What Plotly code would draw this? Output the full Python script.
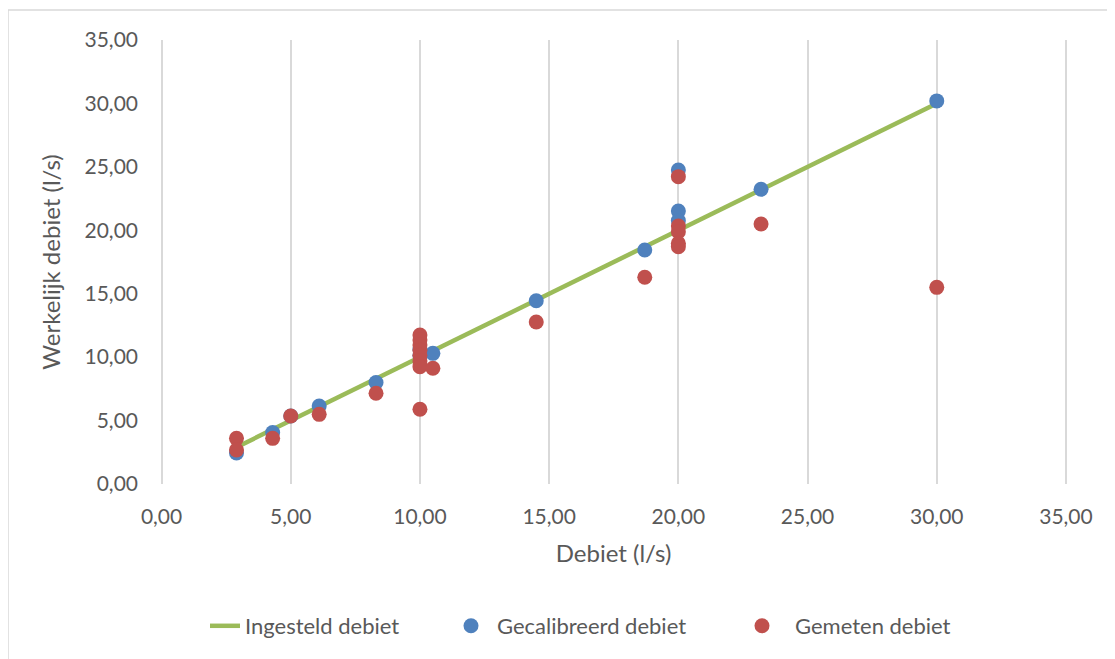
import plotly.graph_objects as go

# Data
setpoint = [2.9, 4.3, 5.0, 6.1, 8.3, 10.0, 10.5, 14.5, 18.7, 20.0, 23.2, 30.0]

cal_x = [2.9, 4.3, 5.0, 6.1, 8.3, 10.0, 10.0, 10.5, 14.5, 18.7, 20.0, 20.0, 20.0, 23.2, 30.0]
cal_y = [2.45, 4.05, 5.36, 6.15, 8.0, 10.1, 10.6, 10.3, 14.45, 18.45, 24.75, 21.52, 20.76, 23.23, 30.2]

meas_x = [2.9, 2.9, 4.3, 5.0, 6.1, 8.3,
          10.0, 10.0, 10.0, 10.0, 10.0, 10.0, 10.0, 10.0,
          10.5, 14.5, 18.7, 20.0, 20.0, 20.0, 20.0, 20.0, 23.2, 30.0]
meas_y = [3.6, 2.68, 3.6, 5.36, 5.49, 7.15,
          11.75, 11.35, 10.95, 10.55, 10.15, 9.7, 9.25, 5.89,
          9.12, 12.77, 16.3, 24.23, 20.34, 19.89, 18.97, 18.71, 20.5, 15.5]

ticks = [0, 5, 10, 15, 20, 25, 30, 35]

GREEN = "#9BBB59"
BLUE = "#4F81BD"
RED = "#C0504D"
TXT = "#595959"
GRID = "#D9D9D9"
FONT = "Lato, Open Sans, sans-serif"

# page body has an 8px margin; work in screenshot coordinates and convert
OFF = 8
W, H = 1115 - OFF, 659 - OFF
L, R, T, B = 160 - OFF, 1067 - OFF, 40 - OFF, 484 - OFF
pw, ph = R - L, B - T


def px(x):
    return (x - OFF - L) / pw


def py(y):
    return (B - (y - OFF)) / ph


fig = go.Figure()
fig.add_trace(go.Scatter(x=setpoint, y=setpoint, mode="lines", name="Ingesteld debiet",
                         line=dict(color=GREEN, width=4.5), legend="legend", showlegend=True))
fig.add_trace(go.Scatter(x=cal_x, y=cal_y, mode="markers", name="Gecalibreerd debiet",
                         marker=dict(color=BLUE, size=15), legend="legend2", showlegend=True))
fig.add_trace(go.Scatter(x=meas_x, y=meas_y, mode="markers", name="Gemeten debiet",
                         marker=dict(color=RED, size=15), legend="legend3", showlegend=True))

leg_common = dict(orientation="h", yanchor="middle", xanchor="left",
                  font=dict(family=FONT, size=22, color=TXT), bgcolor="rgba(0,0,0,0)")

fig.update_layout(
    width=W, height=H,
    showlegend=True,
    margin=dict(l=L, r=W - R, t=T, b=H - B, autoexpand=False),
    paper_bgcolor="white", plot_bgcolor="white",
    separators=",.",
    font=dict(family=FONT, size=20, color=TXT),
    xaxis=dict(range=[-0.06, 35.04], tickvals=ticks, tickformat=".2f", showgrid=True,
               gridcolor=GRID, gridwidth=1.5, zeroline=False, showline=False,
               ticklabelstandoff=18,
               tickfont=dict(family=FONT, size=21, color=TXT),
               title=dict(text="Debiet (l/s)", font=dict(family=FONT, size=24, color=TXT), standoff=18)),
    yaxis=dict(range=[0, 35], tickvals=ticks, tickformat=".2f", showgrid=False,
               zeroline=False, showline=False, ticklabelstandoff=21,
               tickfont=dict(family=FONT, size=21, color=TXT),
               title=dict(text="Werkelijk debiet (l/s)", font=dict(family=FONT, size=24, color=TXT), standoff=17)),
    legend=dict(x=px(205), y=py(626), itemwidth=30, **leg_common),
    legend2=dict(x=px(445), y=py(626), itemwidth=42, **leg_common),
    legend3=dict(x=px(729), y=py(626), itemwidth=56, **leg_common),
    shapes=[
        dict(type="line", xref="paper", yref="paper", x0=px(8), x1=px(1200), y0=py(10), y1=py(10),
             line=dict(color=GRID, width=1.5)),
        dict(type="line", xref="paper", yref="paper", x0=px(8), x1=px(8), y0=py(10), y1=py(700),
             line=dict(color=GRID, width=1.5)),
    ],
)

fig.write_html("out.html")
